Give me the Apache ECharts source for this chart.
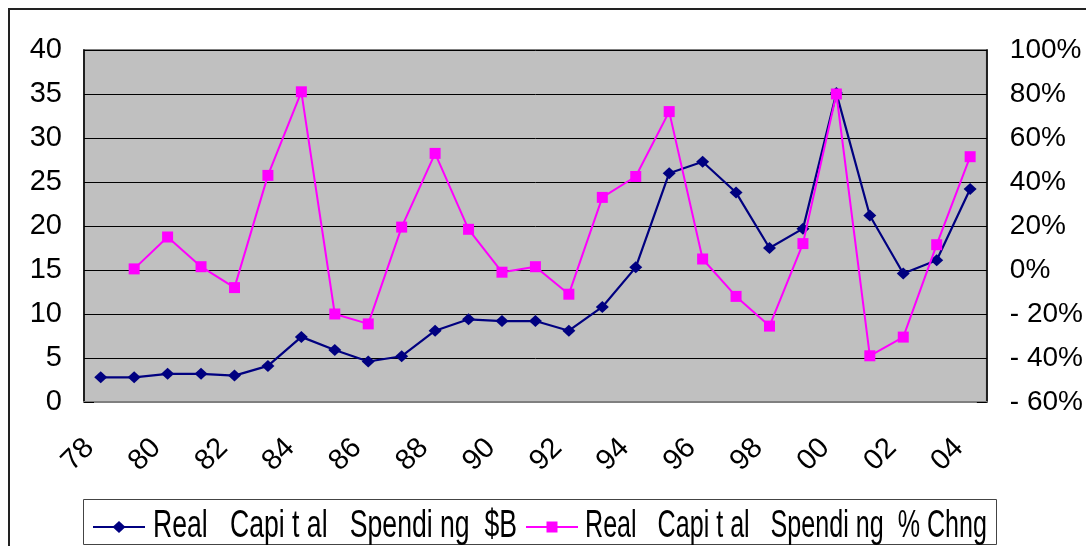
<!DOCTYPE html>
<html>
<head>
<meta charset="utf-8">
<script src="https://cdn.jsdelivr.net/npm/echarts@6/dist/echarts.min.js"></script>
<style>
  html, body { margin: 0; padding: 0; background: #ffffff; }
  #chart { width: 1086px; height: 546px; }
</style>
</head>
<body>
<div id="chart"></div>
<script>
// Fiscal years (two-digit labels)
const years = ['78','79','80','81','82','83','84','85','86','87','88','89','90','91','92','93','94','95','96','97','98','99','00','01','02','03','04'];

// Real capital spending, billions of dollars (left axis)
const spendingB = [2.8, 2.8, 3.2, 3.2, 3.0, 4.1, 7.4, 5.9, 4.6, 5.2, 8.1, 9.4, 9.2, 9.2, 8.1, 10.8, 15.3, 26.0, 27.3, 23.8, 17.5, 19.7, 35.1, 21.2, 14.6, 16.1, 24.2];

// Year-over-year change in real capital spending, percent (right axis)
const spendingPct = [null, 0.5, 15, 1.5, -8, 43, 81, -20, -24.5, 19.5, 53, 18.5, -1, 1.5, -11, 33, 42.5, 72, 5, -12, -25.5, 12, 80, -39, -30.5, 11.5, 51.5];

const seriesNames = ['Real   Capi t al   Spendi ng  $B', 'Real   Capi t al   Spendi ng  % Chng'];
const seriesColors = ['#000080', '#FF00FF'];

const FONT = "'Liberation Sans', Arial, sans-serif";
const LEGEND_FONT_SIZE = 39;

// Horizontal squeeze so a legend caption fits its slot width
function squeezeFor(text, width) {
  const ctx = document.createElement('canvas').getContext('2d');
  ctx.font = LEGEND_FONT_SIZE + 'px ' + FONT;
  return width / ctx.measureText(text).width;
}

// Legend key: a short line with the series marker in the middle, then its caption
function legendItem(x0, textX, textW, name, color, marker) {
  const cy = 527;
  const items = [
    { type: 'line', shape: { x1: x0, y1: cy, x2: x0 + 52, y2: cy },
      style: { stroke: color, lineWidth: 2 }, z: 10, silent: true },
    { type: 'text', x: textX, y: 526, scaleX: squeezeFor(name, textW), scaleY: 1, z: 10, silent: true,
      style: { text: name, fontSize: LEGEND_FONT_SIZE, fontFamily: FONT, fill: '#000',
               align: 'left', verticalAlign: 'middle' } }
  ];
  const mx = x0 + 26;
  if (marker === 'diamond') {
    items.push({ type: 'polygon', z: 11, silent: true,
      shape: { points: [[mx, cy - 6], [mx + 6.5, cy], [mx, cy + 6], [mx - 6.5, cy]] },
      style: { fill: color } });
  } else {
    items.push({ type: 'rect', z: 11, silent: true,
      shape: { x: mx - 5.5, y: cy - 5.5, width: 11, height: 11 }, style: { fill: color } });
  }
  return items;
}

const chart = echarts.init(document.getElementById('chart'), null, { renderer: 'canvas' });

chart.setOption({
  animation: false,
  backgroundColor: '#ffffff',
  textStyle: { fontFamily: FONT, color: '#000' },
  graphic: [
    { type: 'rect', shape: { x: 9, y: 9, width: 1100, height: 600 },
      style: { fill: 'none', stroke: '#222', lineWidth: 2 }, silent: true },
    { type: 'rect', shape: { x: 83.5, y: 499.5, width: 913, height: 45 },
      style: { fill: '#fff', stroke: '#444', lineWidth: 1 }, silent: true, z: 9 },
    ...legendItem(93, 153, 364, seriesNames[0], seriesColors[0], 'diamond'),
    ...legendItem(526, 585, 402, seriesNames[1], seriesColors[1], 'rect')
  ],
  grid: {
    left: 84, top: 50, right: 97, bottom: 144,
    show: true, backgroundColor: '#C0C0C0', borderColor: '#808080', borderWidth: 2
  },
  xAxis: {
    type: 'category',
    data: years,
    boundaryGap: true,
    axisLine: { lineStyle: { color: '#808080', width: 2 } },
    axisTick: { inside: true, length: 10, interval: 0, lineStyle: { color: '#000', width: 1 } },
    axisLabel: { interval: 1, rotate: 45, margin: 30, padding: [0, 16, 0, 0],
                 fontSize: 29, color: '#000', fontFamily: FONT },
    splitLine: { show: false }
  },
  yAxis: [
    {
      type: 'value', min: 0, max: 40, interval: 5,
      axisLine: { show: true, lineStyle: { color: '#000', width: 1.5 } },
      axisTick: { show: true, inside: true, length: 10, lineStyle: { color: '#000' } },
      axisLabel: { fontSize: 29, color: '#000', margin: 22, fontFamily: FONT },
      splitLine: { show: true, lineStyle: { color: '#000', width: 1 } }
    },
    {
      type: 'value', min: -60, max: 100, interval: 20, position: 'right',
      axisLine: { show: true, lineStyle: { color: '#000', width: 1.5 } },
      axisTick: { show: true, inside: true, length: 10, lineStyle: { color: '#000' } },
      axisLabel: {
        fontSize: 28, color: '#000', margin: 23, fontFamily: FONT,
        formatter: v => (v < 0 ? '- ' + Math.abs(v) : v) + '%'
      },
      splitLine: { show: false }
    }
  ],
  series: [
    {
      name: seriesNames[0], type: 'line', yAxisIndex: 0, data: spendingB,
      symbol: 'diamond', symbolSize: [13, 12], z: 3,
      lineStyle: { color: seriesColors[0], width: 2.2 },
      itemStyle: { color: seriesColors[0] }
    },
    {
      name: seriesNames[1], type: 'line', yAxisIndex: 1, data: spendingPct,
      symbol: 'rect', symbolSize: 11, z: 4,
      lineStyle: { color: seriesColors[1], width: 2 },
      itemStyle: { color: seriesColors[1] }
    }
  ]
});
</script>
</body>
</html>
